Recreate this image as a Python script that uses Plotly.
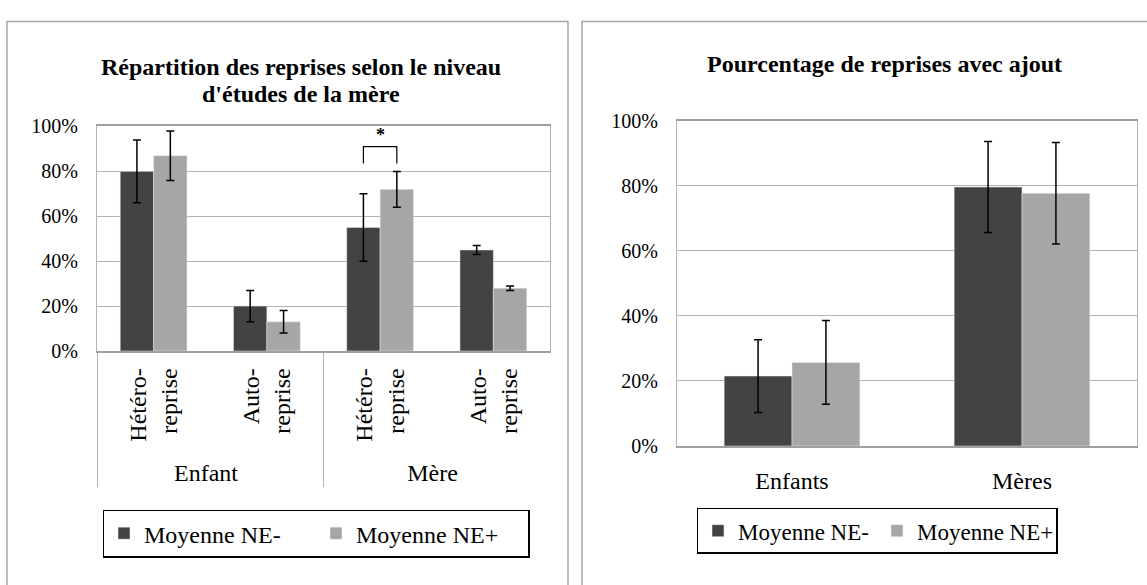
import plotly.graph_objects as go

# ---------------- data ----------------
left_groups = ["Enfant", "Enfant", "Mère", "Mère"]
left_types = ["Hétéro-<br>reprise", "Auto-<br>reprise", "Hétéro-<br>reprise", "Auto-<br>reprise"]
left_ne_minus = [0.80, 0.20, 0.55, 0.45]
left_ne_minus_err = [0.14, 0.07, 0.15, 0.02]
left_ne_plus = [0.87, 0.13, 0.72, 0.28]
left_ne_plus_err = [0.11, 0.05, 0.08, 0.01]

right_cats = ["Enfants", "Mères"]
right_ne_minus = [0.215, 0.796]
right_ne_minus_err = [0.112, 0.14]
right_ne_plus = [0.257, 0.777]
right_ne_plus_err = [0.129, 0.156]

series_names = ["Moyenne NE-", "Moyenne NE+"]
y_ticks = [0, 0.2, 0.4, 0.6, 0.8, 1.0]
y_ticktext = ["0%", "20%", "40%", "60%", "80%", "100%"]

title_left = ["Répartition des reprises selon le niveau", "d'études de la mère"]
title_right = "Pourcentage de reprises avec ajout"

# significance marker (left chart, Mère / Hétéro-reprise)
sig_category_index = 2
sig_bracket_low = 0.835
sig_bracket_high = 0.91
sig_star_y = 0.96

# ---------------- styling ----------------
W, H = 1147, 585
DARK = "#434343"
LIGHT = "#a6a6a6"
GRID = "#b3b3b3"
FONT = "Liberation Serif, Times New Roman, serif"
BARGAP = 0.41


def px(x):
    return x / W


def py(y):
    return 1 - y / H


fig = go.Figure()

err_style = dict(type="data", color="black", thickness=1.5, width=4, visible=True)

xl = [left_groups, left_types]
fig.add_trace(go.Bar(x=xl, y=left_ne_minus, name=series_names[0], marker_color=DARK,
                     error_y=dict(array=left_ne_minus_err, **err_style),
                     xaxis="x", yaxis="y", legend="legend"))
fig.add_trace(go.Bar(x=xl, y=left_ne_plus, name=series_names[1], marker_color=LIGHT,
                     error_y=dict(array=left_ne_plus_err, **err_style),
                     xaxis="x", yaxis="y", legend="legend"))
fig.add_trace(go.Bar(x=right_cats, y=right_ne_minus, name=series_names[0], marker_color=DARK,
                     error_y=dict(array=right_ne_minus_err, **err_style),
                     xaxis="x2", yaxis="y2", legend="legend2"))
fig.add_trace(go.Bar(x=right_cats, y=right_ne_plus, name=series_names[1], marker_color=LIGHT,
                     error_y=dict(array=right_ne_plus_err, **err_style),
                     xaxis="x2", yaxis="y2", legend="legend2"))

yax_common = dict(range=[0, 1], tickvals=y_ticks, ticktext=y_ticktext,
                  showgrid=True, gridcolor=GRID, gridwidth=1,
                  showline=True, linecolor=GRID, linewidth=1, mirror=True,
                  ticks="", ticklabelstandoff=14, zeroline=False,
                  tickfont=dict(family=FONT, size=20, color="black"))

fig.update_layout(
    width=W, height=H,
    margin=dict(l=0, r=0, t=0, b=0),
    paper_bgcolor="white", plot_bgcolor="white",
    barmode="group", bargap=BARGAP, bargroupgap=0,
    font=dict(family=FONT, size=24, color="black"),
    xaxis=dict(domain=[px(97), px(550)], anchor="y", type="multicategory",
               showline=True, linecolor="#a0a0a0", linewidth=1.5, mirror=True,
               showdividers=True, dividercolor=GRID, dividerwidth=1,
               tickangle=-90, ticks="", ticklabelstandoff=6,
               tickfont=dict(family=FONT, size=24, color="black")),
    yaxis=dict(domain=[py(353.3), py(120)], anchor="x", **yax_common),
    xaxis2=dict(domain=[px(677), px(1137)], anchor="y2",
                showline=True, linecolor="#a0a0a0", linewidth=1.5, mirror=True,
                ticks="", ticklabelstandoff=12,
                tickfont=dict(family=FONT, size=24, color="black")),
    yaxis2=dict(domain=[py(452), py(114)], anchor="x2", **yax_common),
    legend=dict(orientation="h", x=px(316), y=py(543), xanchor="center", yanchor="middle",
                bordercolor="black", borderwidth=1.5, bgcolor="white",
                font=dict(family=FONT, size=24, color="black"), entrywidth=167),
    legend2=dict(orientation="h", x=px(877), y=py(540), xanchor="center", yanchor="middle",
                 bordercolor="black", borderwidth=1.5, bgcolor="white",
                 font=dict(family=FONT, size=23, color="black"), entrywidth=134),
    showlegend=True,
)

# chart-area borders
fig.add_shape(type="rect", xref="paper", yref="paper", x0=px(7), x1=px(568), y0=-0.05, y1=py(11),
              line=dict(color="#a6a6a6", width=1.5), fillcolor="rgba(0,0,0,0)", layer="below")
fig.add_shape(type="rect", xref="paper", yref="paper", x0=px(582), x1=1.05, y0=-0.05, y1=py(11),
              line=dict(color="#a6a6a6", width=1.5), fillcolor="rgba(0,0,0,0)", layer="below")

# titles
fig.add_annotation(text="<b>%s</b>" % title_left[0], xref="paper", yref="paper",
                   x=px(301), y=py(58), showarrow=False, xanchor="center", yanchor="middle",
                   font=dict(family=FONT, size=24, color="black"))
fig.add_annotation(text="<b>%s</b>" % title_left[1], xref="paper", yref="paper",
                   x=px(301), y=py(86), showarrow=False, xanchor="center", yanchor="middle",
                   font=dict(family=FONT, size=24, color="black"))
fig.add_annotation(text="<b>%s</b>" % title_right, xref="paper", yref="paper",
                   x=px(884), y=py(55), showarrow=False, xanchor="center", yanchor="middle",
                   font=dict(family=FONT, size=24, color="black"))

# significance bracket
ncat = len(left_types)
cat_center = (sig_category_index + 0.5) / ncat
half = (1 - BARGAP) / ncat / 4
xa, xb = cat_center - half, cat_center + half
fig.add_shape(type="path", xref="x domain", yref="y",
              path=f"M {xa} {sig_bracket_low} L {xa} {sig_bracket_high} L {xb} {sig_bracket_high} L {xb} {sig_bracket_low}",
              line=dict(color="black", width=1.2))
fig.add_annotation(text="<b>*</b>", xref="x domain", yref="y", x=cat_center, y=sig_star_y,
                   showarrow=False, font=dict(family=FONT, size=18, color="black"))

fig.write_html("out.html", config={"displayModeBar": False},
               post_script="document.body.style.margin='0';document.body.style.overflow='hidden';")
